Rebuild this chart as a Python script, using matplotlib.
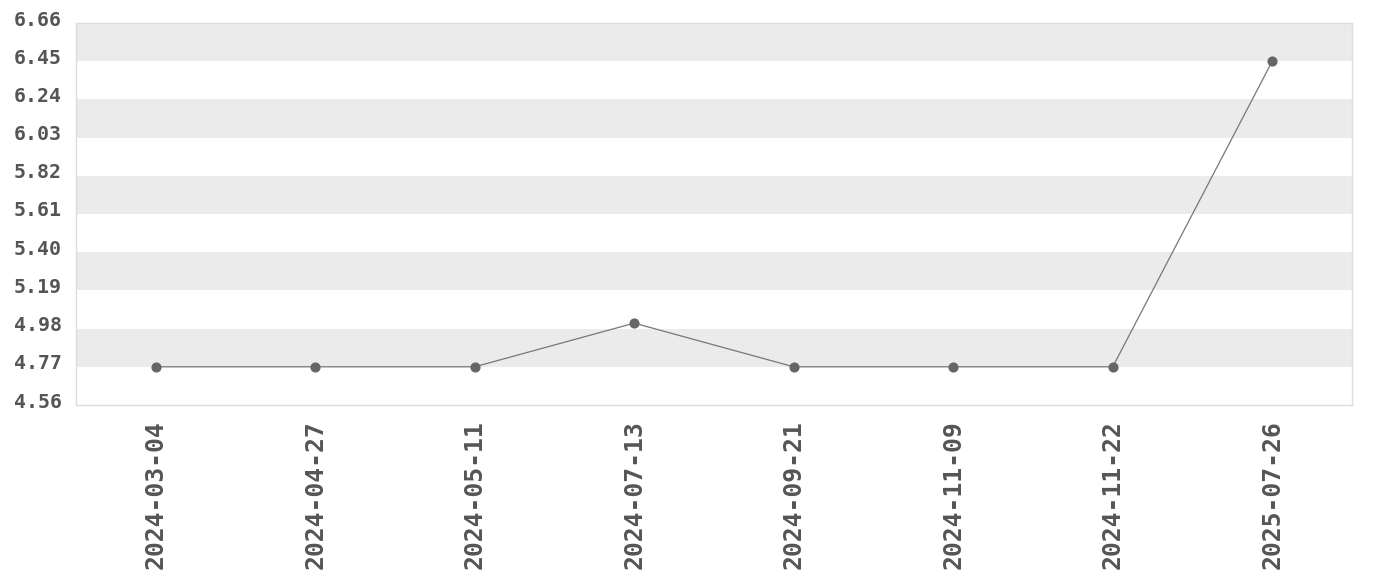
import numpy as np
import matplotlib
matplotlib.use("Agg")
from matplotlib import pyplot as plt
from matplotlib import transforms

# data
dates = ["2024-03-04", "2024-04-27", "2024-05-11", "2024-07-13",
         "2024-09-21", "2024-11-09", "2024-11-22", "2025-07-26"]
values = [4.77, 4.77, 4.77, 5.01, 4.77, 4.77, 4.77, 6.45]
y_ticks = [4.56, 4.77, 4.98, 5.19, 5.40, 5.61, 5.82, 6.03, 6.24, 6.45, 6.66]

text_color = "#555555"
font = "DejaVu Sans Mono"

fig = plt.figure(figsize=(13.8, 5.8), dpi=100)
ax = fig.add_axes([76 / 1380, 1 - 405 / 580, (1352 - 76) / 1380, (405 - 23) / 580])

# alternating bands, grey on top
for i in range(len(y_ticks) - 1):
    if (len(y_ticks) - 2 - i) % 2 == 0:
        ax.axhspan(y_ticks[i], y_ticks[i + 1], color="#ebebeb", lw=0, zorder=0)

x = np.arange(len(dates))
ax.plot(x, values, color="#777777", lw=0.9, zorder=2)
ax.plot(x, values, "o", color="#666666", ms=6.3, zorder=3)

ax.set_xlim(-0.5, len(dates) - 0.5)
ax.set_ylim(y_ticks[0], y_ticks[-1])

ax.set_xticks(x)
ax.set_xticklabels(dates, rotation=90, fontsize=17.8, fontweight="bold",
                   color=text_color, family=font)
ax.set_yticks(y_ticks)
ax.set_yticklabels(["%.2f" % v for v in y_ticks], fontsize=14.3,
                   fontweight="bold", color=text_color, family=font)
ax.tick_params(length=0)
ax.tick_params(axis="x", pad=11)
ax.tick_params(axis="y", pad=10)

offset = transforms.ScaledTranslation(0, 5 / 100, fig.dpi_scale_trans)
for lab in ax.get_yticklabels():
    lab.set_transform(lab.get_transform() + offset)

for s in ax.spines.values():
    s.set_color("#dddddd")
    s.set_linewidth(1)

fig.savefig("out.png", dpi=100)
